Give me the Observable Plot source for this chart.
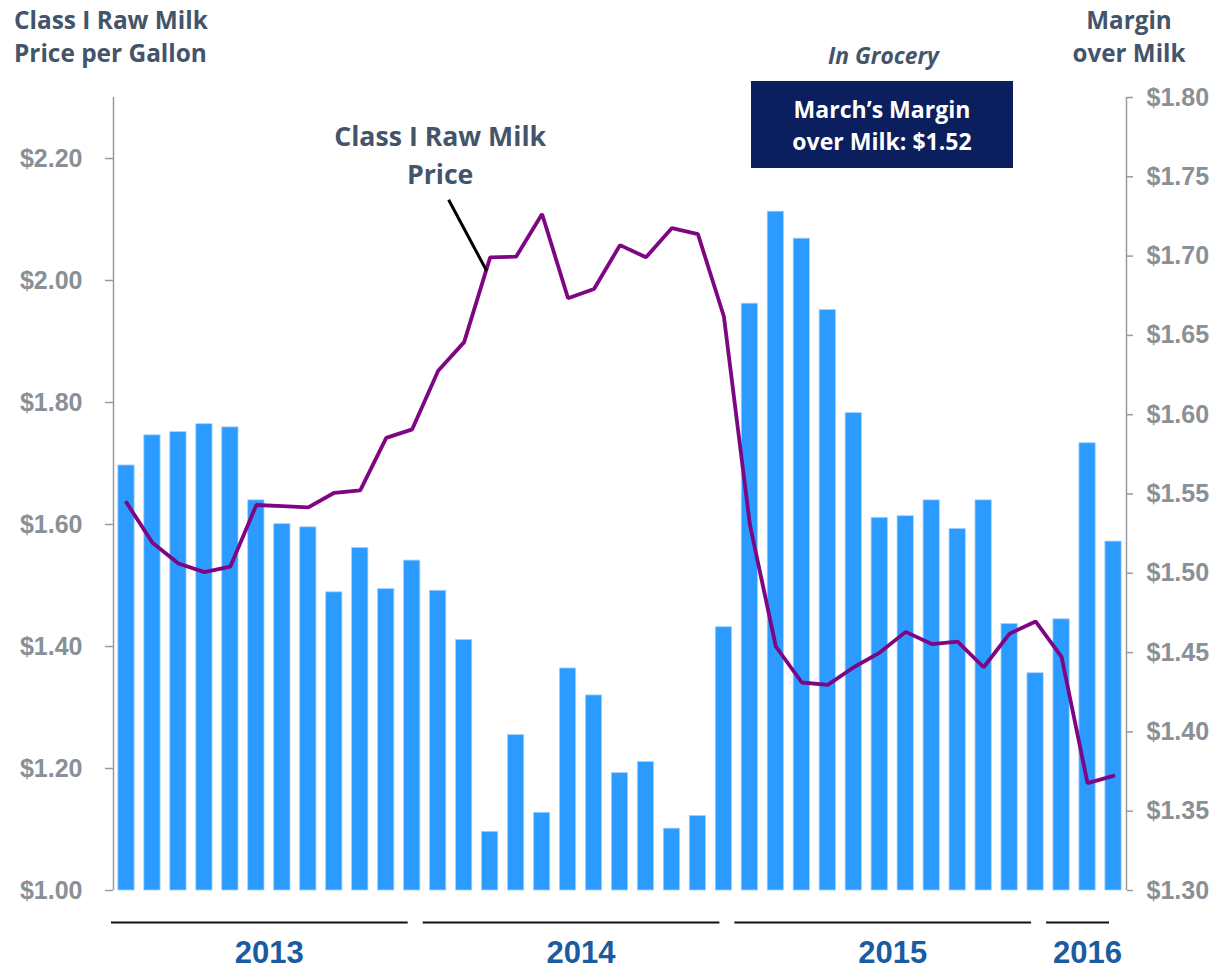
<!DOCTYPE html>
<html><head><meta charset="utf-8">
<script src="https://cdn.jsdelivr.net/npm/d3@7"></script>
<script src="https://cdn.jsdelivr.net/npm/@observablehq/plot@0.6"></script>
<style>
html,body{margin:0;padding:0;background:#fff;}
#wrap{position:relative;width:1225px;height:969px;overflow:hidden;}
#chart{position:absolute;left:0;top:0;}
#over{position:absolute;left:0;top:0;}
</style></head><body>
<div id="wrap">
  <div id="chart"></div>
  <svg id="over" width="1225" height="969"></svg>
</div>
<script>
// ---- data ----
const months = [
  "2013-01","2013-02","2013-03","2013-04","2013-05","2013-06","2013-07","2013-08","2013-09","2013-10","2013-11","2013-12",
  "2014-01","2014-02","2014-03","2014-04","2014-05","2014-06","2014-07","2014-08","2014-09","2014-10","2014-11","2014-12",
  "2015-01","2015-02","2015-03","2015-04","2015-05","2015-06","2015-07","2015-08","2015-09","2015-10","2015-11","2015-12",
  "2016-01","2016-02","2016-03"
];
// Margin over milk in grocery ($/gal, right axis)
const marginOverMilk = [
  1.568,1.587,1.589,1.594,1.592,1.546,1.531,1.529,1.488,1.516,1.490,1.508,
  1.489,1.458,1.337,1.398,1.349,1.440,1.423,1.374,1.381,1.339,1.347,1.466,
  1.670,1.728,1.711,1.666,1.601,1.535,1.536,1.546,1.528,1.546,1.468,1.437,
  1.471,1.582,1.520
];
// Class I raw milk price per gallon (left axis)
const rawMilkPrice = [
  1.636,1.570,1.536,1.522,1.531,1.632,1.630,1.628,1.652,1.656,1.742,1.756,
  1.852,1.899,2.038,2.039,2.109,1.971,1.986,2.058,2.038,2.086,2.076,1.941,
  1.600,1.400,1.341,1.337,1.366,1.390,1.424,1.404,1.408,1.366,1.421,1.441,
  1.383,1.176,1.188
];
const years = ["2013","2014","2015","2016"];
const yearFirstMonth = ["2013-01","2014-01","2015-01","2016-01"];
const yearMonthCount = [12,12,12,3];
const leftTicks = [1.00,1.20,1.40,1.60,1.80,2.00,2.20];
const rightTicks = [1.30,1.35,1.40,1.45,1.50,1.55,1.60,1.65,1.70,1.75,1.80];
const leftDomain = [1.0, 2.3];
const rightDomain = [1.3, 1.8];
const leftTitle = ["Class I Raw Milk", "Price per Gallon"];
const rightTitle = ["Margin", "over Milk"];
const boxSubtitle = "In Grocery";
const boxLines = ["March’s Margin", "over Milk: $1.52"];
const seriesLabel = ["Class I Raw Milk", "Price"];

// ---- helpers ----
const k = (leftDomain[1]-leftDomain[0])/(rightDomain[1]-rightDomain[0]);
const toLeft = v => leftDomain[0] + (v - rightDomain[0]) * k;
const fromLeft = v => rightDomain[0] + (v - leftDomain[0]) / k;
const rows = months.map((m,i) => ({month:m, i, margin:marginOverMilk[i], price:rawMilkPrice[i]}));
const yearRows = years.map((y,j) => {
  const s = months.indexOf(yearFirstMonth[j]);
  return {year:y, start:s, end:s + yearMonthCount[j]};
});
const annIdx = months.indexOf("2014-03");

const titleFont = "'Open Sans', Lato, sans-serif";
const titleColor = "#44546A";
const cv = document.createElement("canvas").getContext("2d");
function fitSize(text, target, style = "normal") {
  cv.font = `${style} 700 100px ${titleFont}`;
  return 100 * target / cv.measureText(text).width;
}

const axisGray = "#9a9a9a";
const labelGray = "#899097";

function pointer(index, scales) {
  const px = scales.x(annIdx + 0.5), py = scales.y(rawMilkPrice[annIdx]);
  const ln = document.createElementNS("http://www.w3.org/2000/svg","line");
  ln.setAttribute("x1", px - 41); ln.setAttribute("y1", py - 57);
  ln.setAttribute("x2", px - 3);  ln.setAttribute("y2", py + 14);
  ln.setAttribute("stroke", "#000"); ln.setAttribute("stroke-width", "3");
  return ln;
}

const annSize = fitSize(seriesLabel[0], 212);

const chart = Plot.plot({
  width: 1225, height: 969,
  marginLeft: 113, marginRight: 99, marginTop: 97, marginBottom: 79,
  style: {fontFamily: "'Liberation Sans', Arial, sans-serif", background: "transparent", overflow: "visible"},
  x: {domain: [0, months.length], axis: null},
  y: {domain: leftDomain, axis: null},
  marks: [
    Plot.rectY(rows, {x1: "i", x2: d => d.i + 1, y1: leftDomain[0], y2: d => toLeft(d.margin),
      insetLeft: 4.85, insetRight: 4.85, fill: "#2B9BFF", stroke: "#a6d2fb", strokeWidth: 0.8}),
    Plot.line(rows, {x: d => d.i + 0.5, y: "price", stroke: "#7E0682", strokeWidth: 3.8, strokeLinejoin: "miter"}),
    Plot.ruleX([0, months.length], {stroke: axisGray, strokeWidth: 1.5}),
    Plot.axisY(leftTicks, {anchor: "left", tickSize: 8, tickPadding: 23, tickFormat: d => "$" + d.toFixed(2),
      fontSize: 25, fontWeight: "bold", stroke: axisGray, fill: labelGray, strokeWidth: 1.5, label: null}),
    Plot.axisY(rightTicks.map(toLeft), {anchor: "right", tickSize: 6, tickPadding: 14, tickFormat: d => "$" + fromLeft(d).toFixed(2),
      fontSize: 25, fontWeight: "bold", stroke: axisGray, fill: labelGray, strokeWidth: 1.5, label: null}),
    Plot.ruleY(yearRows, {x1: "start", x2: "end", y: leftDomain[0], dy: 32, insetLeft: -2, insetRight: 17, stroke: "#111", strokeWidth: 2}),
    Plot.text(yearRows, {x: d => (d.start + d.end)/2, y: leftDomain[0], dy: 63, text: "year",
      fontSize: 31, fontWeight: "bold", fill: "#1B5BA0"}),
    Plot.text([rows[annIdx]], {x: d => d.i + 0.5, y: "price", dx: -50, dy: -104, text: () => seriesLabel.join("\n"),
      lineHeight: 38 / annSize, fontSize: annSize, fontWeight: "bold", fill: titleColor, fontFamily: titleFont}),
    pointer
  ]
});
document.getElementById("chart").appendChild(chart);

// ---- header / box overlay ----
const over = d3.select("#over");
function addLines(lines, x, baselines, anchor, size, fill, style = "normal") {
  lines.forEach((t, j) => over.append("text")
    .attr("x", x).attr("y", baselines[j]).attr("text-anchor", anchor)
    .attr("font-family", titleFont).attr("font-weight", 700).attr("font-style", style)
    .attr("font-size", size).attr("fill", fill).text(t));
}
addLines(leftTitle, 14, [29, 62], "start", fitSize(leftTitle[0], 194), titleColor);
addLines(rightTitle, 1129, [29, 62], "middle", fitSize(rightTitle[1], 113), titleColor);
addLines([boxSubtitle], 883.5, [64], "middle", fitSize(boxSubtitle, 111, "italic"), titleColor, "italic");
over.append("rect").attr("x", 751).attr("y", 81).attr("width", 262).attr("height", 87).attr("fill", "#0B1F5E");
addLines(boxLines, 882, [118, 150], "middle", fitSize(boxLines[0], 177), "#ffffff");
</script>
</body></html>
